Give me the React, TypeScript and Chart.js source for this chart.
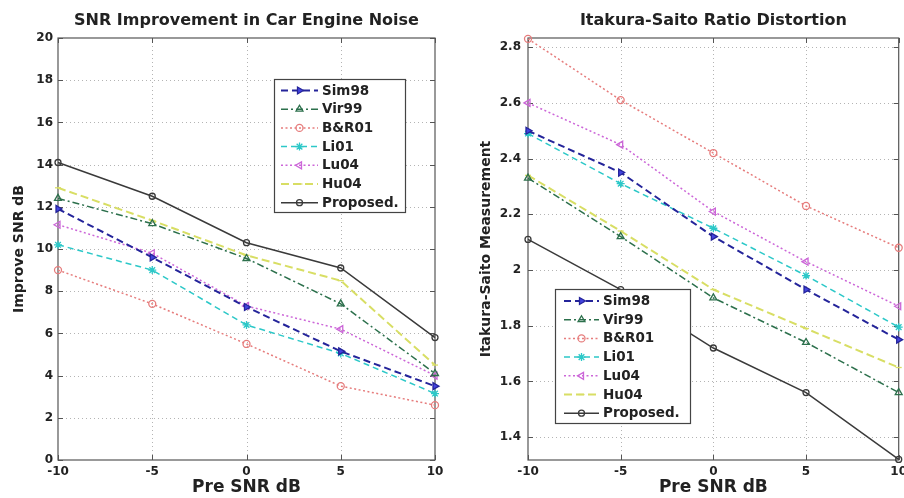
import React, { useEffect, useRef } from 'react';
import { Chart, registerables } from 'chart.js';

Chart.register(...registerables);

// ---------- data ----------
const xValues = [-10, -5, 0, 5, 10];
const seriesNames = ['Sim98', 'Vir99', 'B&R01', 'Li01', 'Lu04', 'Hu04', 'Proposed.'];

// Left: SNR improvement (dB)
const snrSim98 = [11.9, 9.6, 7.25, 5.15, 3.5];
const snrVir99 = [12.4, 11.2, 9.55, 7.4, 4.1];
const snrBR01 = [9.0, 7.4, 5.5, 3.5, 2.6];
const snrLi01 = [10.2, 9.0, 6.4, 5.05, 3.15];
const snrLu04 = [11.15, 9.8, 7.3, 6.2, 4.0];
const snrHu04 = [12.9, 11.35, 9.7, 8.5, 4.5];
const snrProposed = [14.1, 12.5, 10.3, 9.1, 5.8];

// Right: Itakura-Saito measurement
const isSim98 = [2.5, 2.35, 2.12, 1.93, 1.75];
const isVir99 = [2.33, 2.12, 1.9, 1.74, 1.56];
const isBR01 = [2.83, 2.61, 2.42, 2.23, 2.08];
const isLi01 = [2.49, 2.31, 2.15, 1.98, 1.795];
const isLu04 = [2.6, 2.45, 2.21, 2.03, 1.87];
const isHu04 = [2.34, 2.14, 1.93, 1.79, 1.65];
const isProposed = [2.11, 1.93, 1.72, 1.56, 1.32];

const xTicks = [-10, -5, 0, 5, 10];
const leftYTicks = [0, 2, 4, 6, 8, 10, 12, 14, 16, 18, 20];
const rightYTicks = [1.4, 1.6, 1.8, 2, 2.2, 2.4, 2.6, 2.8];

const leftSeries = [snrSim98, snrVir99, snrBR01, snrLi01, snrLu04, snrHu04, snrProposed];
const rightSeries = [isSim98, isVir99, isBR01, isLi01, isLu04, isHu04, isProposed];

// ---------- styles ----------
type St = { color: string; dash: number[]; width: number; point: string; rot: number; r: number; fill: string | null };
const seriesStyles: St[] = [
  { color: '#24249a', dash: [7, 4], width: 2, point: 'triangle', rot: 90, r: 4, fill: '#4444e0' },
  { color: '#2c704c', dash: [7, 3, 2, 3], width: 1.5, point: 'triangle', rot: 0, r: 4, fill: null },
  { color: '#e67c7c', dash: [2, 2.5], width: 1.5, point: 'circle', rot: 0, r: 3.5, fill: null },
  { color: '#2cc8c8', dash: [6, 4], width: 1.5, point: 'star', rot: 0, r: 4, fill: null },
  { color: '#cc66d8', dash: [2, 2.5], width: 1.5, point: 'triangle', rot: -90, r: 4, fill: null },
  { color: '#d8de64', dash: [8, 4], width: 2, point: 'line', rot: 0, r: 3, fill: null },
  { color: '#3a3a3a', dash: [], width: 1.5, point: 'circle', rot: 0, r: 3, fill: null },
];

const FONT = "'DejaVu Sans', 'Liberation Sans', Arial, sans-serif";
const TEXT = '#222';

function makeDatasets(series: number[][]) {
  return series.map((vals, i) => {
    const st = seriesStyles[i];
    return {
      label: seriesNames[i],
      data: xValues.map((x, j) => ({ x, y: vals[j] })),
      borderColor: st.color,
      backgroundColor: st.color,
      borderDash: st.dash,
      borderWidth: st.width,
      tension: 0,
      pointStyle: st.point,
      pointRotation: st.rot,
      pointRadius: st.r,
      pointBorderWidth: 1.3,
      pointBorderColor: st.color,
      pointBackgroundColor: st.fill || 'rgba(255,255,255,0)',
      clip: false as any,
    };
  });
}

function drawMarker(ctx: CanvasRenderingContext2D, st: St, x: number, y: number) {
  ctx.save();
  ctx.setLineDash([]);
  ctx.strokeStyle = st.color;
  ctx.lineWidth = 1.3;
  const r = st.r;
  ctx.beginPath();
  if (st.point === 'circle') {
    ctx.arc(x, y, r, 0, Math.PI * 2);
  } else if (st.point === 'triangle') {
    const rad = (st.rot * Math.PI) / 180 - Math.PI / 2;
    for (let k = 0; k < 3; k++) {
      const a = rad + (k * 2 * Math.PI) / 3;
      const px = x + Math.cos(a) * r;
      const py = y + Math.sin(a) * r;
      if (k === 0) ctx.moveTo(px, py);
      else ctx.lineTo(px, py);
    }
    ctx.closePath();
  } else if (st.point === 'star') {
    ctx.moveTo(x - r, y); ctx.lineTo(x + r, y);
    ctx.moveTo(x, y - r); ctx.lineTo(x, y + r);
    const d = r * 0.707;
    ctx.moveTo(x - d, y - d); ctx.lineTo(x + d, y + d);
    ctx.moveTo(x - d, y + d); ctx.lineTo(x + d, y - d);
  } else if (st.point === 'line') {
    ctx.moveTo(x - r, y); ctx.lineTo(x + r, y);
  }
  if (st.fill) {
    ctx.fillStyle = st.fill;
    ctx.fill();
  }
  ctx.stroke();
  ctx.restore();
}

type Decor = {
  title: string;
  legend: { x: number; y: number; w: number; h: number; row0: number; rowGap: number; lineX0: number; lineX1: number; textX: number };
};

function makeDecorPlugin(cfg: Decor) {
  return {
    id: 'decor',
    beforeDatasetsDraw(chart: any) {
      const { ctx, chartArea: a, scales } = chart;
      const xs = scales.x;
      const ys = scales.y;
      ctx.save();
      // dotted grid
      ctx.strokeStyle = '#b4b4b4';
      ctx.lineWidth = 1;
      ctx.setLineDash([1, 3]);
      xs.ticks.forEach((t: any) => {
        const px = Math.round(xs.getPixelForValue(t.value)) + 0.5;
        if (px <= a.left + 1 || px >= a.right - 1) return;
        ctx.beginPath();
        ctx.moveTo(px, a.top);
        ctx.lineTo(px, a.bottom);
        ctx.stroke();
      });
      ys.ticks.forEach((t: any) => {
        const py = Math.round(ys.getPixelForValue(t.value)) + 0.5;
        if (py <= a.top + 1 || py >= a.bottom - 1) return;
        ctx.beginPath();
        ctx.moveTo(a.left, py);
        ctx.lineTo(a.right, py);
        ctx.stroke();
      });
      // frame
      ctx.setLineDash([]);
      ctx.strokeStyle = '#555';
      ctx.lineWidth = 1.2;
      ctx.strokeRect(a.left, a.top, a.right - a.left, a.bottom - a.top);
      // inward ticks
      const tl = 5;
      ctx.lineWidth = 1;
      ctx.beginPath();
      xs.ticks.forEach((t: any) => {
        const px = Math.round(xs.getPixelForValue(t.value)) + 0.5;
        ctx.moveTo(px, a.bottom); ctx.lineTo(px, a.bottom - tl);
        ctx.moveTo(px, a.top); ctx.lineTo(px, a.top + tl);
      });
      ys.ticks.forEach((t: any) => {
        const py = Math.round(ys.getPixelForValue(t.value)) + 0.5;
        ctx.moveTo(a.left, py); ctx.lineTo(a.left + tl, py);
        ctx.moveTo(a.right, py); ctx.lineTo(a.right - tl, py);
      });
      ctx.stroke();
      ctx.restore();
    },
    afterDatasetsDraw(chart: any) {
      const { ctx } = chart;
      const L = cfg.legend;
      ctx.save();
      ctx.fillStyle = '#fff';
      ctx.fillRect(L.x, L.y, L.w, L.h);
      ctx.strokeStyle = '#444';
      ctx.lineWidth = 1.2;
      ctx.strokeRect(L.x + 0.5, L.y + 0.5, L.w, L.h);
      ctx.font = `bold 13.5px ${FONT}`;
      ctx.textBaseline = 'middle';
      ctx.textAlign = 'left';
      seriesNames.forEach((name, i) => {
        const st = seriesStyles[i];
        const y = L.row0 + i * L.rowGap;
        ctx.save();
        ctx.strokeStyle = st.color;
        ctx.lineWidth = st.width;
        ctx.setLineDash(st.dash);
        ctx.beginPath();
        ctx.moveTo(L.lineX0, y);
        ctx.lineTo(L.lineX1, y);
        ctx.stroke();
        ctx.restore();
        drawMarker(ctx, st, (L.lineX0 + L.lineX1) / 2, y);
        ctx.fillStyle = TEXT;
        ctx.fillText(name, L.textX, y + 0.5);
      });
      ctx.restore();
    },
    afterDraw(chart: any) {
      const { ctx, chartArea: a } = chart;
      ctx.save();
      ctx.font = `bold 16px ${FONT}`;
      ctx.fillStyle = TEXT;
      ctx.textAlign = 'center';
      ctx.textBaseline = 'middle';
      ctx.fillText(cfg.title, (a.left + a.right) / 2, 21);
      ctx.restore();
    },
  };
}

function makeConfig(opts: {
  series: number[][];
  yMin: number;
  yMax: number;
  yTicks: number[];
  yTitle: string;
  yTitlePad: number;
  yAxisWidth: number;
  yTickPad: number;
  rightPad: number;
  decor: Decor;
}) {
  return {
    type: 'line' as const,
    data: { datasets: makeDatasets(opts.series) },
    options: {
      animation: false as const,
      responsive: false,
      devicePixelRatio: 1,
      layout: { padding: { left: 0, right: opts.rightPad, top: 38, bottom: 0 } },
      plugins: {
        legend: { display: false },
        tooltip: { enabled: false },
        title: { display: false },
      },
      scales: {
        x: {
          type: 'linear' as const,
          min: -10,
          max: 10,
          afterBuildTicks: (s: any) => {
            s.ticks = xTicks.map((v) => ({ value: v }));
          },
          grid: { display: false, drawTicks: false },
          border: { display: false },
          ticks: {
            padding: 5,
            autoSkip: false,
            maxRotation: 0,
            color: TEXT,
            font: { family: FONT, size: 12, weight: 'bold' as const },
            callback: (v: any) => String(v),
          },
          title: {
            display: true,
            text: 'Pre SNR dB',
            color: TEXT,
            font: { family: FONT, size: 17, weight: 'bold' as const },
            padding: { top: 0, bottom: 0 },
          },
          afterFit: (s: any) => {
            s.height = 38;
            s.paddingLeft = 0;
            s.paddingRight = 0;
          },
        },
        y: {
          type: 'linear' as const,
          min: opts.yMin,
          max: opts.yMax,
          afterBuildTicks: (s: any) => {
            s.ticks = opts.yTicks.map((v) => ({ value: v }));
          },
          grid: { display: false, drawTicks: false },
          border: { display: false },
          ticks: {
            padding: opts.yTickPad,
            autoSkip: false,
            color: TEXT,
            font: { family: FONT, size: 12, weight: 'bold' as const },
            callback: (v: any) => String(+Number(v).toFixed(1)),
          },
          title: {
            display: true,
            text: opts.yTitle,
            color: TEXT,
            font: { family: FONT, size: 14, weight: 'bold' as const },
            padding: { top: opts.yTitlePad, bottom: 0 },
          },
          afterFit: (s: any) => {
            s.width = opts.yAxisWidth;
            s.paddingTop = 0;
            s.paddingBottom = 0;
          },
        },
      },
    },
    plugins: [makeDecorPlugin(opts.decor)],
  };
}

export default function App() {
  const leftRef = useRef<HTMLCanvasElement | null>(null);
  const rightRef = useRef<HTMLCanvasElement | null>(null);

  useEffect(() => {
    Chart.defaults.font.family = FONT;
    const left = new Chart(
      leftRef.current as HTMLCanvasElement,
      makeConfig({
        series: leftSeries,
        yMin: 0,
        yMax: 20,
        yTicks: leftYTicks,
        yTitle: 'Improve SNR dB',
        yTitlePad: 10.6,
        yAxisWidth: 58,
        yTickPad: 5,
        rightPad: 17,
        decor: {
          title: 'SNR Improvement in Car Engine Noise',
          legend: { x: 274, y: 79, w: 131, h: 133, row0: 90.5, rowGap: 18.7, lineX0: 281, lineX1: 318, textX: 322 },
        },
      }) as any
    );
    const right = new Chart(
      rightRef.current as HTMLCanvasElement,
      makeConfig({
        series: rightSeries,
        yMin: 1.318,
        yMax: 2.833,
        yTicks: rightYTicks,
        yTitle: 'Itakura-Saito Measurement',
        yTitlePad: 25.6,
        yAxisWidth: 76,
        yTickPad: 7,
        rightPad: 4,
        decor: {
          title: 'Itakura-Saito Ratio Distortion',
          legend: { x: 103, y: 289, w: 135, h: 134, row0: 301, rowGap: 18.7, lineX0: 112, lineX1: 147, textX: 151 },
        },
      }) as any
    );
    return () => {
      left.destroy();
      right.destroy();
    };
  }, []);

  return (
    <div
      style={{
        position: 'fixed',
        left: 0,
        top: 0,
        width: 904,
        height: 498,
        overflow: 'hidden',
        background: '#fff',
      }}
    >
      <canvas
        ref={leftRef}
        width={452}
        height={498}
        style={{ position: 'absolute', left: 0, top: 0, width: 452, height: 498 }}
      />
      <canvas
        ref={rightRef}
        width={452}
        height={498}
        style={{ position: 'absolute', left: 452, top: 0, width: 452, height: 498 }}
      />
    </div>
  );
}
